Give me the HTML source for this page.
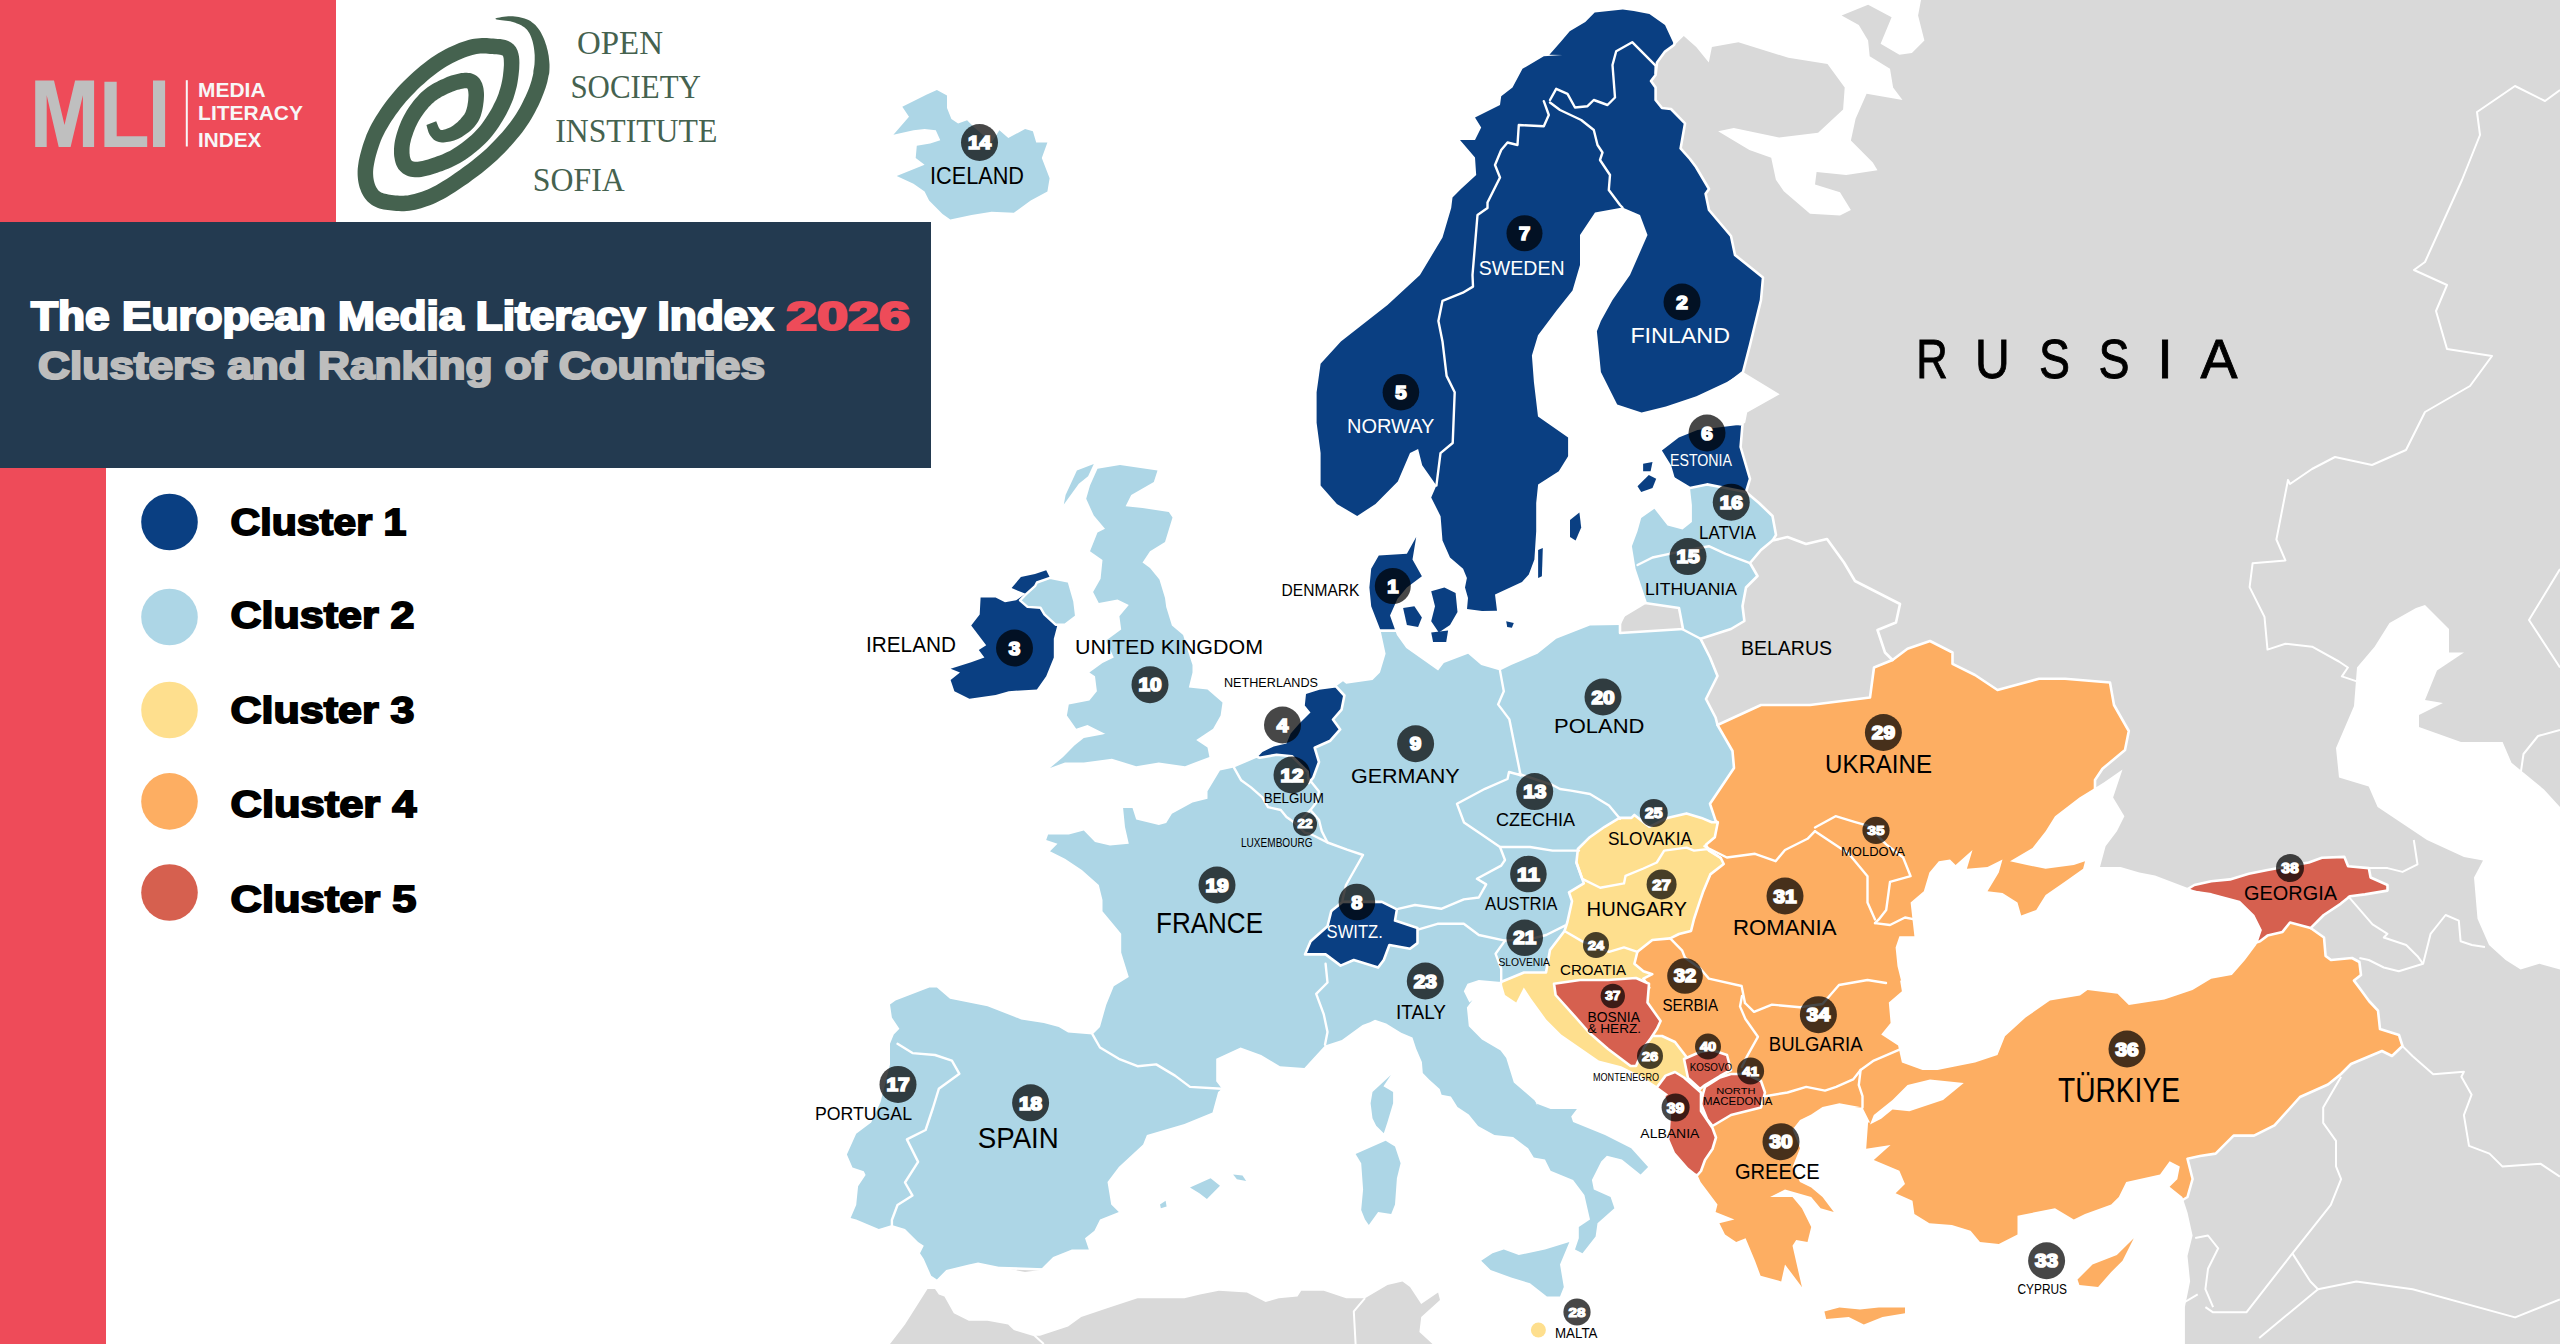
<!DOCTYPE html>
<html><head><meta charset="utf-8"><title>European Media Literacy Index 2026</title>
<style>
html,body{margin:0;padding:0;background:#fff;}
body{width:2560px;height:1344px;overflow:hidden;}
svg{display:block;}
.lbl{font-family:"Liberation Sans",sans-serif;}
</style></head><body>
<svg xmlns="http://www.w3.org/2000/svg" width="2560" height="1344" viewBox="0 0 2560 1344">
<rect width="2560" height="1344" fill="#fff"/>

<rect x="0" y="0" width="2560" height="1344" fill="#D9D9D9"/>
<path d="M700,420 1300,540 1380,628 1500,640 1600,560 1640,500 1700,470 1746,492 1759,503 1772.5,516 1776,535 1772.5,540.6 1800,600 1800,800 1700,900 1760,1000 1700,1100 1650,1200 1600,1262 1400,1272 1200,1275 1000,1268 940,1283 830,1240 700,1100Z" fill="#ADD6E6" stroke="#fff" stroke-width="2.6" stroke-linejoin="round"/>
<path d="M1717.5,725 1732.5,751 1734,768 1710,803.8 1715.6,820.6 1717.5,822.5 1690,850 1650,890 1620,940 1610,990 1640,1040 1660,1080 1680,1120 1690,1170 1680,1300 1900,1340 2000,1290 2100,1240 2150,1220 2187.5,1197 2192.6,1179 2187.5,1158.7 2200,1156 2215.6,1153.6 2233.6,1135.6 2254,1135.6 2274.5,1125.4 2300,1097 2328,1084.5 2341,1074 2351,1064 2382,1051 2392,1056 2402.5,1046 2399,1035 2380,1029 2378,1010.6 2369,1001 2361,990 2354,980.6 2361,975 2359.4,962 2352,958 2331,960 2325.6,956 2324,937.5 2310.6,928 2290,905 2230,900 2150,900 2090,866 2095,830 2095,780 2102.5,768.8 2125,750 2128.8,731 2114,705 2110,682.5 2065,678.8 2039,678.8 1997.5,690 1975,675 1952.5,663.8 1952.5,652.5 1930,641 1907.5,648.8 1892.5,660 1870,650 1760,680Z" fill="#FDAE62" stroke="#fff" stroke-width="2.6" stroke-linejoin="round"/>
<path d="M1576.4,862.5 1577.9,849 1589.8,837.2 1604.7,826.8 1619.5,817.9 1631.4,817.9 1634.4,814.9 1649.3,826.8 1667.2,817.9 1686.5,813.4 1701.4,817.9 1711.8,822.3 1717.8,822.3 1714.8,837.2 1705.9,844.7 1708.9,850.6 1720.8,858 1723.7,864 1710.3,874.4 1702.9,892.3 1699.9,901.2 1694,919 1691,931 1679,934 1670.2,938.4 1652.3,940 1637.4,951.8 1634.4,963.7 1643.4,971.2 1652.3,974.2 1643.4,978.6 1649.3,987.6 1640,1000 1650,1030 1645,1036 1662,1036 1675,1042 1688,1059 1690,1080 1670,1100 1640,1100 1560,1060 1500,1000 1501,982 1524,972.5 1546,972.5 1550,950 1564.5,931 1567.4,922 1572,901.2 1569,892.3 1583.8,883.4Z" fill="#FEDF8E" stroke="#fff" stroke-width="2.6" stroke-linejoin="round"/>
<path d="M1554,983.8 1580,980 1608,980 1636,978 1649,983.8 1647.5,1002.5 1660.6,1021 1657,1028.8 1651,1038 1644,1047.5 1636,1066 1630.6,1066 1608,1049 1589,1032.5 1572.5,1013.8 1555.6,995Z" fill="#D6604F" stroke="#fff" stroke-width="2.6" stroke-linejoin="round"/>
<path d="M1684,1059 1700,1052 1712,1050 1727,1055 1731,1070 1720,1076 1705,1085 1700,1089 1688,1078Z" fill="#D6604F" stroke="#fff" stroke-width="2.6" stroke-linejoin="round"/>
<path d="M1705,1087 1720,1077.5 1731,1074 1746,1074 1761,1081 1765,1092.5 1761,1107.5 1731,1115 1712.5,1126 1707,1119 1701,1104 1703,1094Z" fill="#D6604F" stroke="#fff" stroke-width="2.6" stroke-linejoin="round"/>
<path d="M1665.6,1075.6 1675,1072 1684,1077.5 1701,1092.5 1701,1111 1712.5,1128 1716,1137.5 1712.5,1149 1705,1160 1701,1171 1697.5,1175 1660,1175 1640,1110Z" fill="#D6604F" stroke="#fff" stroke-width="2.6" stroke-linejoin="round"/>
<path d="M2194.4,885 2211.2,881.2 2230,879.4 2248.8,873.8 2267.5,870 2308.8,862.5 2321.9,857.8 2344.4,856.9 2348.1,866.2 2368.8,868.1 2370.6,877.5 2387.5,885 2387.5,890.6 2365,894.4 2350,896.2 2340.6,903.8 2323.8,915 2310.6,928.1 2290,922.5 2282.5,931.9 2267.5,935.6 2260,941.2 2248.8,945 2239.4,901.9 2211.2,894.4 2185,890.6Z" fill="#D6604F" stroke="#fff" stroke-width="2.6" stroke-linejoin="round"/>
<path d="M1500,-10 1700,-10 1680,30 1674,45 1665,51.6 1657,62.5 1655.6,75 1651,81 1655.6,87.5 1655.6,100 1662,108 1671,109 1680.6,118.8 1685,123.4 1680.6,148.4 1690,159 1696,167 1709,189 1705.6,193.8 1709,210 1731,236 1735,255 1763,277.5 1761,300 1750,345 1743,372 1700,405 1600,440 1595,600 1560,630 1470,626 1300,520 1300,300Z" fill="#0A3F82" stroke="#fff" stroke-width="2.6" stroke-linejoin="round"/>
<path d="M1742.5,424.4 1740.6,447 1750,478.8 1746,492 1725.6,488 1707,484.4 1690,488 1660,470 1620,440 1660,415Z" fill="#0A3F82" stroke="#fff" stroke-width="2.6" stroke-linejoin="round"/>
<path d="M1340,540 1420,520 1435,600 1400,630.6 1393.8,630.6 1380.6,630.6 1340,630Z" fill="#0A3F82" stroke="#fff" stroke-width="2.6" stroke-linejoin="round"/>
<path d="M1306.3,692.6 1319,688.4 1336,686.3 1344.4,695.5 1341.6,709.6 1333,719.5 1340.2,729.4 1330.3,740.7 1314.7,747.8 1319,762 1313.3,777.5 1309,783 1307.7,771.8 1292,756.3 1276.6,754.8 1259.6,757.7 1245,752 1273.7,735 1285,720 1290,700 1300,680Z" fill="#0A3F82" stroke="#fff" stroke-width="2.6" stroke-linejoin="round"/>
<path d="M1333.1,909.4 1342.5,901.9 1381.9,901.9 1396.9,909.4 1395,920.6 1417.5,928.1 1417.5,943.1 1410,948.8 1389.4,945 1383.8,960 1378.1,967.5 1353.8,960 1340.6,965.6 1325.6,954.4 1305,954.4 1310.6,941.2 1327.5,926.2 1331.2,911.2Z" fill="#0A3F82" stroke="#fff" stroke-width="2.6" stroke-linejoin="round"/>
<path d="M1772.5,540.6 1787.5,537 1806,544 1827,539 1844,562.5 1855,581 1900,604 1896,622.5 1877.5,630 1885,652.5 1892.5,660 1874,667.5 1870,697.5 1810,705 1761,705 1717.5,725 1715.6,717.5 1706,699 1717.5,676 1710,657.5 1700.6,638.8 1731,629 1744.4,621 1742.5,606 1746,587.5 1757.5,576 1750,563 1761,550Z" fill="#D9D9D9" stroke="#fff" stroke-width="2.6" stroke-linejoin="round"/>
<path d="M1620,618 1645,603 1679,608 1683,629 1620,633Z" fill="#D9D9D9" stroke="#fff" stroke-width="2.6" stroke-linejoin="round"/>
<path d="M1234,767.6 1241.2,780.3 1251,787.4 1262.4,797.3 1268,807.2 1280.8,810 1286.5,817 1296.4,824.1 1304.8,832.6 1310.5,834 1319,838.3 1327.5,842.5 1347,849.6 1363,855 1346,885 1342.5,900" fill="none" stroke="#fff" stroke-width="2.4" stroke-linejoin="round" stroke-linecap="round"/>
<path d="M1307.7,777.5 1319,791.6 1316,803 1310.5,810 1319,820 1321.8,831.2 1327.5,842.5" fill="none" stroke="#fff" stroke-width="2.4" stroke-linejoin="round" stroke-linecap="round"/>
<path d="M1296.4,824.1 1310.5,810" fill="none" stroke="#fff" stroke-width="2.4" stroke-linejoin="round" stroke-linecap="round"/>
<path d="M1325.6,963.8 1327.5,982.5 1316.2,993.8 1323.8,1014.4 1327.5,1032 1325,1044.7" fill="none" stroke="#fff" stroke-width="2.4" stroke-linejoin="round" stroke-linecap="round"/>
<path d="M1092.5,1034.4 1100,1047.5 1118.8,1058.8 1137.5,1066.2 1156.2,1064.4 1175,1075.6 1190,1086.9 1221.9,1088.8" fill="none" stroke="#fff" stroke-width="2.4" stroke-linejoin="round" stroke-linecap="round"/>
<path d="M897.5,1043.8 912.5,1053.1 935,1055 951.9,1060.6 959.4,1073.8 938.8,1088.8 933.1,1107.5 925.6,1130 906.9,1139.4 918.1,1161.9 905,1182.5 912.5,1195.6 897.5,1205 891.9,1220 891.9,1232 891.9,1225.1" fill="none" stroke="#fff" stroke-width="2.4" stroke-linejoin="round" stroke-linecap="round"/>
<path d="M1500,670.6 1503.8,691.2 1498.1,704.4 1509.4,719.4 1515,747.5 1518.8,766.2 1520.6,775.6" fill="none" stroke="#fff" stroke-width="2.4" stroke-linejoin="round" stroke-linecap="round"/>
<path d="M1520,775 1509,772 1507.5,779 1485,788.8 1464,800 1457,803.8 1464,822.5 1481,834 1500,847 1530,847 1552.5,850.6 1571,850.6 1579,850.6" fill="none" stroke="#fff" stroke-width="2.4" stroke-linejoin="round" stroke-linecap="round"/>
<path d="M1519,774 1530,777.5 1552.5,785 1560,789 1571,790.6 1590,794 1609,805.6 1620,818.8" fill="none" stroke="#fff" stroke-width="2.4" stroke-linejoin="round" stroke-linecap="round"/>
<path d="M1398.1,908.8 1415,905 1441.2,908.8 1463.8,899.4 1478.8,897.5 1486.2,884.4 1476.9,878.8 1501.2,865.6 1505,860 1500,847" fill="none" stroke="#fff" stroke-width="2.4" stroke-linejoin="round" stroke-linecap="round"/>
<path d="M1418.8,929.4 1437.5,923.8 1463.8,923.8 1478.8,935 1505,940.6 1531.2,938.8 1546.2,935 1565,925.6" fill="none" stroke="#fff" stroke-width="2.4" stroke-linejoin="round" stroke-linecap="round"/>
<path d="M1505,940.6 1495.6,953.8 1501.2,968.8 1501.2,981.9" fill="none" stroke="#fff" stroke-width="2.4" stroke-linejoin="round" stroke-linecap="round"/>
<path d="M1637.5,565 1652.5,557.5 1669.4,553.8 1708.8,546.2 1725.6,553.8 1750,563.1" fill="none" stroke="#fff" stroke-width="2.4" stroke-linejoin="round" stroke-linecap="round"/>
<path d="M1682,629 1700.6,638.8" fill="none" stroke="#fff" stroke-width="2.4" stroke-linejoin="round" stroke-linecap="round"/>
<path d="M1704.4,846.2 1726.9,857.5 1755,853.8 1775.6,861.2 1785,850 1807.5,838.8 1815,831.2" fill="none" stroke="#fff" stroke-width="2.4" stroke-linejoin="round" stroke-linecap="round"/>
<path d="M1815,827.5 1835.6,816.2 1854.4,821.9 1867.5,825.6 1886.2,844.4 1903.1,857.5 1910.6,876.2 1890,881.9 1886.2,910 1878.8,919.4 1875,923.1" fill="none" stroke="#fff" stroke-width="2.4" stroke-linejoin="round" stroke-linecap="round"/>
<path d="M1815,831.2 1848.8,853.8 1867.5,876.2 1867.5,902.5 1875,919.4" fill="none" stroke="#fff" stroke-width="2.4" stroke-linejoin="round" stroke-linecap="round"/>
<path d="M1875,923.1 1890,925 1905,917.5 1914.4,919.4" fill="none" stroke="#fff" stroke-width="2.4" stroke-linejoin="round" stroke-linecap="round"/>
<path d="M1670.2,938.4 1682,950.3 1685,957.8 1700,968.2 1708.9,978.6 1741.6,986 1745,1003" fill="none" stroke="#fff" stroke-width="2.4" stroke-linejoin="round" stroke-linecap="round"/>
<path d="M1745,1003 1754,1011.8 1772,1004.6 1800,1007.3 1822.5,1004 1839,985 1867.5,980 1886,983" fill="none" stroke="#fff" stroke-width="2.4" stroke-linejoin="round" stroke-linecap="round"/>
<path d="M1742,996 1740,1006.4 1745.4,1019 1757.9,1036.8 1747,1056.4 1741.8,1067" fill="none" stroke="#fff" stroke-width="2.4" stroke-linejoin="round" stroke-linecap="round"/>
<path d="M1765,1096.2 1787.5,1092.5 1806.2,1086.9 1825,1090.6 1836.2,1086.9 1853.1,1079.4 1860.6,1070 1873.8,1060.6 1900,1049.4" fill="none" stroke="#fff" stroke-width="2.4" stroke-linejoin="round" stroke-linecap="round"/>
<path d="M1860.6,1070 1858.8,1085 1862.5,1096.2 1862.5,1107.5" fill="none" stroke="#fff" stroke-width="2.4" stroke-linejoin="round" stroke-linecap="round"/>
<path d="M1576.4,862.5 1582.3,878.9 1600.2,887.8 1624,883.4 1625.5,875.9 1643.4,868.5 1656.8,862.5 1664.2,850.6 1686.5,847.6 1694,850.6 1707.4,849.1 1720.8,858" fill="none" stroke="#fff" stroke-width="2.4" stroke-linejoin="round" stroke-linecap="round"/>
<path d="M1564.5,931 1582.3,941.4 1609,951.8 1624,947.4 1637.4,951.8" fill="none" stroke="#fff" stroke-width="2.4" stroke-linejoin="round" stroke-linecap="round"/>
<path d="M1543.8,101.2 1548.8,115 1543.8,126.2 1518.8,125 1517.5,145 1507.5,142.5 1501.2,150 1495,165 1500,177.5 1487.5,202.5 1487.5,208 1477.5,215 1472.5,275 1473,286.6 1462.8,292.7 1442.5,300.8 1438.4,321.1 1442.5,341.4 1446.6,375.9 1454.7,392.2 1452.7,443 1440.5,453.1 1436.4,485.6" fill="none" stroke="#fff" stroke-width="2.4" stroke-linejoin="round" stroke-linecap="round"/>
<path d="M1550,102.5 1560,110 1581.2,120 1593.8,130 1597.5,145 1602.5,152.5 1600,160 1610,175 1608.8,190 1620,205 1622.5,207.5" fill="none" stroke="#fff" stroke-width="2.4" stroke-linejoin="round" stroke-linecap="round"/>
<path d="M1550,100 1556.2,88.8 1567.5,93.8 1575,107.5 1587.5,106.2 1593.8,100 1607.5,105 1615,97.5 1612.5,65 1616.2,51.2 1632.2,42.2 1655.6,65.6 1655.6,73.4" fill="none" stroke="#fff" stroke-width="2.4" stroke-linejoin="round" stroke-linecap="round"/>
<path d="M2560,90 2545,101 2515,86 2477,112 2480,135 2462,180 2425,262 2414,270 2447,285 2436,311 2447,349 2492,356 2470,386 2425,412 2406,450 2372,465 2335,457 2312,469 2290,484 2288,480 2276.4,539.5 2285.4,560.4 2252.6,563.3 2249.6,587.1 2264.5,616.9 2267.5,649.6 2285.4,643.7 2312.1,646.7 2338.9,661.5 2347.9,667.5 2341.9,676.4 2359.8,682.4" fill="none" stroke="#fff" stroke-width="2" stroke-linejoin="round"/>
<path d="M2560,569 2529,620 2560,667.5" fill="none" stroke="#fff" stroke-width="2" stroke-linejoin="round"/>
<path d="M2560,730 2538,736 2523.5,754 2520,778" fill="none" stroke="#fff" stroke-width="2" stroke-linejoin="round"/>
<path d="M2413.8,840 2417.5,864.4 2402.5,871.9 2387.5,868.1 2368.8,868.1" fill="none" stroke="#fff" stroke-width="2" stroke-linejoin="round"/>
<path d="M2348.1,896.2 2372.5,924.4 2387.5,933.8 2383.8,937.5 2406.2,945 2417.5,956.2 2423.1,963.8 2398.8,971.2 2383.8,967.5 2368.8,960 2359.4,958.1" fill="none" stroke="#fff" stroke-width="2" stroke-linejoin="round"/>
<path d="M2423.1,963.8 2430.6,933.8 2445.6,915 2458.8,920.6 2460.6,941.2 2471.9,945 2485,946.9" fill="none" stroke="#fff" stroke-width="2" stroke-linejoin="round"/>
<path d="M2402.5,1046.1 2412.7,1056.3 2433.2,1074.2 2463.9,1071.7 2461.4,1076.8 2471.6,1094.7 2463.9,1115.2 2469,1145.9 2489.5,1153.6 2502.3,1166.4 2540.7,1163.8 2559.9,1176.6" fill="none" stroke="#fff" stroke-width="2" stroke-linejoin="round"/>
<path d="M2341.1,1076.8 2323.2,1107.5 2323.2,1122.9 2336,1140.8 2336,1166.4 2341.1,1179.2 2330.8,1204.8 2292.4,1253.4 2246.4,1312.3 2213.1,1312.3 2205.4,1307.1" fill="none" stroke="#fff" stroke-width="2" stroke-linejoin="round"/>
<path d="M2292.4,1253.4 2310.4,1281.5 2318,1289.2 2356.4,1281.5 2412.7,1289.2 2515.1,1317.4 2559.9,1299.5" fill="none" stroke="#fff" stroke-width="2" stroke-linejoin="round"/>
<path d="M2318,1289.2 2259.2,1337.9" fill="none" stroke="#fff" stroke-width="2" stroke-linejoin="round"/>
<path d="M2195.2,1238 2208,1235.5 2218.2,1248.3 2208,1268.8 2205.4,1289.2 2213.1,1307.1" fill="none" stroke="#fff" stroke-width="2" stroke-linejoin="round"/>
<path d="M2184.9,1302 2197.7,1294.3" fill="none" stroke="#fff" stroke-width="2" stroke-linejoin="round"/>
<path d="M1365,1298.2 1353.8,1311.4 1355.6,1344" fill="none" stroke="#fff" stroke-width="2" stroke-linejoin="round"/>
<path d="M1030.6,1332 1043.8,1344" fill="none" stroke="#fff" stroke-width="2" stroke-linejoin="round"/>
<path d="M0,0 1921,0 1918.1,15.6 1924.4,40.6 1911.9,53.1 1899.4,54.7 1880.6,43.8 1891.6,17.2 1868.1,4.7 1841.6,15.6 1858.8,25 1868.1,40.6 1869.7,56.2 1890,68.8 1893.1,87.5 1902.5,100 1866.6,93.8 1855.6,118.8 1850.9,140.6 1872.8,162.5 1877.5,170.3 1846.2,175 1816.6,171.9 1815,184.4 1840,192.2 1850.9,210 1840,215.6 1810,213.8 1783.8,191.2 1775.9,179.7 1771.2,157.8 1749.4,150 1718.1,131.2 1733.8,128.1 1779.1,137.5 1818.1,132.8 1843.1,109.4 1844.7,87.5 1827.5,64.1 1788.4,57.8 1738.4,42.2 1711.9,46.9 1708.8,62.5 1696.2,46.9 1683.8,35.9 1674.4,45.3 1665,25 1649.4,14.1 1633.8,10.9 1622.8,9.4 1594.7,12.5 1585.3,21.9 1569.7,31.2 1561.9,40.6 1549.4,54.7 1562.5,55 1543.8,56.2 1522.5,68.8 1512.5,87.5 1501.2,96.2 1500,105 1475,117.5 1481.2,127.5 1475,140 1460,140 1475,157.5 1476.2,175 1461.2,188.8 1452.5,197.5 1451.2,208 1442.5,237.5 1420,275 1387.5,305 1340.9,341.4 1320.6,363.8 1316.6,392.2 1316.6,422.7 1320.6,453.1 1320.6,485.6 1336.9,503.9 1357.2,516.1 1375.5,503.9 1397.8,481.6 1410,453.1 1418.1,449.1 1422.2,465.3 1436.4,485.6 1431.2,497.5 1440.6,516.2 1442.5,540.6 1450,557.5 1463.1,568.8 1466.9,578.1 1465,587.5 1468,598 1467,609 1482,611 1497,610.7 1495,594.6 1522,582 1528.8,574.4 1534.4,559.4 1536.2,531.2 1536.2,503.1 1538.1,484.4 1558.8,471.2 1568.1,456.2 1568.1,437.5 1538,416.6 1533.9,382 1531.9,355.6 1538,335.3 1556.2,310.9 1572.5,290.6 1580,265 1580,235 1595,212.5 1622.5,207.5 1640,215 1647.5,235 1630,275 1612.5,300 1600.9,321.1 1596.9,331.2 1600.9,371.9 1617.2,404.4 1641.6,412.5 1665.9,406.4 1696.4,396.2 1726.9,382 1743.1,371.9 1779.7,394.2 1747.2,412.5 1745.2,422.7 1742.5,424.4 1697.5,430 1678.8,437.5 1661.9,450.6 1671.2,465.6 1675,478.8 1690,488.1 1691.9,505 1691.9,521.9 1682.5,529.4 1667.5,525.6 1654.4,508.8 1641.2,518.1 1637.5,531.2 1631.9,546.2 1635.6,568.8 1643.1,591.2 1646.9,602.5 1626.2,613.8 1620.6,625 1590,625.6 1556.2,638.8 1537.5,653.8 1511.2,665 1500,670.6 1481.2,665 1468.1,653.8 1443.8,663.1 1438.1,670.6 1425,661.2 1406.2,648.1 1396.9,635 1390,615.6 1397.5,598.8 1406.9,587.5 1421.9,576.2 1412.5,559.4 1416.2,536.9 1406.9,553.8 1378.8,555.6 1371.2,568.8 1369.4,587.5 1371.2,606.2 1380.6,630.6 1385.6,653.8 1380,672.5 1372.5,680 1346.2,683.8 1343,681.3 1336,686.3 1319,688.4 1306.3,691.2 1304.8,705.4 1310.5,712.4 1299.2,723.7 1290.7,733.6 1286.5,743.5 1273.7,746.4 1262.4,752 1256.8,757.7 1234,767.6 1220,770.4 1207.5,791.2 1207.5,798.8 1192.5,802.5 1171.9,813.8 1166.2,823.1 1158.8,825 1136.2,819.4 1132.5,808.1 1123.1,808.1 1125,826.9 1128.8,843.8 1110,845.6 1095,841.9 1083.8,830.6 1068.8,834.4 1048.1,834.4 1046.2,840 1057.5,843.8 1050,851.2 1065,858.8 1081.9,870 1098.8,885 1102.5,900 1102.5,911.2 1111.9,922.5 1121.2,933.8 1121.2,952.5 1128.8,976.9 1113.8,986.2 1106.2,1005 1100,1026.9 1092.5,1034.4 1068.1,1032.5 1058.8,1026.9 1043.8,1023.1 1021.2,1019.4 987.5,1006.2 968.8,1002.5 950,998.8 936.9,987.5 929.4,987.5 895.6,1000.6 890,1004.4 891.9,1017.5 899.4,1028.8 893.8,1034.4 890,1043.8 890,1064.4 880.6,1101.9 871.2,1122.5 856.2,1133.8 846.9,1154.4 852.5,1167.5 863.8,1171.2 865.6,1175 858.1,1186.2 856.2,1205 850.6,1218.1 856.2,1219.5 878.8,1228.9 891.9,1225.1 905,1228.9 918.1,1242 923.8,1245.8 920,1253.2 923.8,1258.9 931.2,1275.8 936.9,1279.5 946.2,1270.1 968.8,1264.5 978.1,1262.6 1006.2,1268.2 1025,1272 1040,1270.1 1053.1,1257 1071.9,1249.5 1088.8,1249.5 1085,1238.2 1094.4,1230.8 1100,1219.5 1118.8,1212 1111.2,1204.5 1107.5,1182 1118.8,1167 1143.1,1144.5 1146.9,1135.1 1184.4,1123.9 1212.5,1112.6 1218.1,1092 1221.9,1088.8 1216.2,1081.2 1216.2,1058.8 1240.6,1047.5 1261.2,1055 1280,1066.2 1304.4,1068.1 1325,1045.6 1341.9,1040 1362.5,1025 1377.5,1019.4 1365.6,1024.4 1375,1019.7 1386.2,1023.4 1401.2,1032.8 1412.5,1037.5 1416.2,1048.8 1421.9,1061.9 1422.8,1073.1 1429.4,1079.7 1439.7,1089.1 1441.6,1094.7 1450.9,1096.6 1457.5,1106.9 1468.8,1114.4 1478.1,1126 1494.4,1135.1 1513.1,1137 1528.1,1148.2 1533.8,1157.6 1545,1159.5 1550.6,1170.8 1573.1,1180.1 1584.4,1195.1 1590,1219.5 1578.8,1227 1578.8,1238.2 1575,1249.5 1582.5,1253.2 1595.6,1236.4 1597.5,1223.2 1614.4,1208.2 1610.6,1197 1593.8,1189.5 1591.9,1180.1 1601.2,1161.4 1606.9,1155.8 1621.9,1159.5 1640.6,1174.5 1648.1,1167 1631.2,1148.2 1605,1135.1 1573.1,1122 1571.2,1116.4 1576.9,1108.9 1550.6,1108.9 1535.6,1103.2 1538.1,1105.9 1534.4,1100.3 1513.8,1082.5 1506.2,1058.1 1500.6,1050.6 1481.9,1039.4 1468.8,1026.2 1466.9,1007.5 1472.5,1000 1469.4,1002.5 1463.8,991.2 1467.5,983.8 1478.8,980 1501.2,981.9 1505,995 1516.2,1002.5 1523.8,987.5 1531.2,998.8 1546.2,1019.4 1561.2,1034.4 1580,1047.5 1598.8,1060.6 1621.2,1066.2 1640,1075.6 1655,1085 1668.1,1094.4 1665.6,1096.2 1671.2,1115 1669.4,1139.4 1675,1152.5 1688.1,1167.5 1697.5,1175 1700.6,1182 1717.5,1204.5 1715.6,1212 1734.4,1219.5 1719.4,1223.2 1725,1234.5 1736.2,1242 1745.6,1238.2 1755,1260.8 1760.6,1275.8 1781.2,1281.4 1785,1264.5 1801.9,1287 1792.5,1245.8 1796.2,1240.1 1807.5,1242 1811.2,1227 1801.9,1208.2 1792.5,1197 1770,1197 1785,1189.5 1811.2,1197 1820.6,1208.2 1833.8,1212 1822.5,1197 1811.2,1187.6 1800,1182 1792.5,1167 1800,1148.2 1792.5,1129.5 1800,1120.1 1811.2,1114.5 1822.5,1107 1839.4,1103.2 1860,1107 1815.6,1111.2 1843.8,1107.5 1862.5,1107.5 1870,1122.5 1868.1,1122.5 1866.2,1148.8 1890.6,1145 1873.8,1160 1899.4,1170.8 1905,1183.9 1895.6,1193.2 1912.5,1200.8 1914.4,1213.9 1929.4,1223.2 1951.9,1225.1 1970.6,1230.8 1980,1242 1998.8,1243.9 2017.5,1234.5 2017.5,1215.8 2055,1208.2 2073.8,1219.5 2085,1213.9 2111.2,1204.5 2118.8,1197 2126.2,1182 2160,1174.5 2169.6,1161.2 2179.8,1166.4 2177.3,1179.2 2169.6,1186.8 2182.4,1197.1 2187.5,1212.4 2192.6,1235.5 2187.5,1256 2190.1,1281.5 2184.9,1307.1 2184.9,1344 1432.5,1344 1419.4,1332 1421.2,1317 1440,1300.1 1438.1,1292.6 1421.2,1303.9 1410,1287 1402.5,1281.4 1387.5,1285.1 1365,1298.2 1346.2,1298.2 1323.8,1290.8 1301.2,1290.8 1297.5,1296.4 1278.8,1298.2 1265.6,1302 1246.9,1292.6 1218.8,1290.8 1200,1294.5 1184.4,1298.2 1137.5,1298.2 1109.4,1307.6 1081.2,1317 1068.1,1326.4 1040,1335.8 1032.5,1335.8 1013.8,1330.1 1008.1,1324.5 987.5,1320.8 968.8,1320.8 953.8,1313.2 944.4,1296.4 938.8,1294.5 935,1288.9 927.5,1288.9 905,1324.5 890,1344 0,1344Z" fill="#fff"/>
<path d="M1914.4,936.2 1912.5,919.4 1910.6,902.5 1923.8,891.2 1929.4,872.5 1938.8,861.2 1950,859.4 1955.6,865 1972.5,850 1966.9,868.8 1987.5,866.9 2002.5,859.4 1998.8,872.5 1987.5,891.2 2002.5,893.1 2017.5,902.5 2021.2,915.6 2036.2,910 2045.6,895 2064.4,881.9 2083.1,868.8 2085,861.2 2073.8,865 2045.6,868.8 2026.9,865 2010,861.2 2032.5,848.1 2045.6,831.2 2055,816.2 2079.4,797.5 2103.8,782.5 2122.5,769.4 2113.1,797.5 2124.4,816.2 2116.9,831.2 2105.6,846.2 2100,866.9 2120.6,866.9 2139.4,872.5 2155,875.6 2194.4,890.6 2211.2,894.4 2230,900 2241.2,901.9 2254.4,915 2261.9,930 2258.1,941.2 2256.2,945 2245,960 2231.9,975 2211.2,978.8 2192.5,990 2164.4,999.4 2128.8,1005 2117.5,993.8 2087.5,990 2080,995.6 2050,1000.6 2025.6,1017.5 2005,1036.2 1997.5,1055 1975,1062.5 1956.2,1066.2 1937.5,1070 1922.5,1070 1901.9,1062.5 1898.1,1045.6 1881.2,1034.4 1890.6,1023.1 1888.8,1002.5 1901.9,991.2 1900,980 1901.2,981.2 1897.5,966.2 1895.6,947.5 1899.4,936.2Z" fill="#fff"/>
<path d="M1907.5,1085 1930,1079.4 1963.8,1083.1 1943.1,1100 1909.4,1111.2 1892.5,1109.4 1881.2,1118.8 1870,1124.4 1873.8,1115 1892.5,1100Z" fill="#fff"/>
<path d="M2425,605 2449,629 2449,652.6 2464,652.6 2437,670.5 2425,700 2443,703 2419,715 2419,727 2461,742 2502.6,742 2511.5,762.7 2544,789.5 2560,807 2560,969.4 2539.4,963.8 2520.6,969.4 2505.6,960 2489,945 2477.5,918.8 2474,877.5 2483,860.6 2464,857 2427,840 2377.6,807 2368.7,786.5 2339,777.6 2336,748 2354,706 2357,667.5 2374.6,646.7 2389.5,623 2416,608Z" fill="#fff"/>
<path d="M902.3,106.8 926.9,94.5 936.9,90 947,95.6 947,107.9 951.4,119.1 958.1,123.5 967.1,120.2 973.8,126.9 991.6,142.5 999.4,130.2 1008.3,138 1025.1,129.1 1032.9,131.3 1036.2,142.5 1047.4,142.5 1041.8,158.1 1049.6,178.2 1047.4,191.6 1030.7,200.5 1013.9,212.8 991.6,211.7 971.5,215 950.3,219.5 942.5,213.9 929.1,200.5 924.6,191.6 913.5,183.8 896.7,176 924.6,164.8 915.7,158.1 916.8,145.8 930.2,143.6 940.3,140.3 935.8,130.2 924.6,129.1 913.5,130.2 893.4,134.7 909,116.8Z" fill="#ADD6E6"/>
<path d="M1046.2,570.3 1050,577.8 1065,580.6 1070.6,586.2 1074.4,603.1 1075.3,616.2 1057.5,624.7 1053.8,638.8 1053.8,657.5 1046.2,676.2 1036.9,689.4 1008.8,691.2 995.6,695 969.4,698.8 954.4,691.2 950.6,680 960,672.5 950.6,668.8 971.2,662.2 984.4,657.5 978.8,650 986.2,645.3 971.2,625.6 979.7,614.4 980.6,597.5 995.6,597.5 1005,602.2 1016.2,600.3 1025.6,593.8 1011.6,588.1 1020.9,576.9 1035,574.1Z" fill="#0A3F82"/>
<path d="M1036.9,582.5 1050,577.8 1068.8,581.6 1074.4,601.2 1076.2,616.2 1065,624.7 1055.6,624.7 1044.4,614.4 1040.6,607.8 1027.5,606.9 1020,600.3 1025.6,594.7 1035,586.2Z" fill="#ADD6E6" stroke="#fff" stroke-width="2.4" stroke-linejoin="round"/>
<path d="M1097.5,468.8 1120,465 1157.5,470.6 1153.8,481.9 1131.2,495 1125.6,506.2 1142.5,508.1 1168.8,511.9 1172.5,517.5 1165,541.9 1150,551.2 1142.5,562.5 1150,568.1 1159.4,579.4 1165,598.1 1166.2,606.9 1171.9,625.6 1183.1,635 1188.8,653.8 1192.5,665 1192.5,672.5 1188.8,687.5 1207.5,689.4 1222.5,702.5 1220.6,715.6 1213.1,728.8 1196.2,740 1207.5,747.5 1209.4,756.9 1185,766.2 1158.8,762.5 1136.2,766.2 1111.9,758.8 1083.8,762.5 1065,762.5 1050,768.1 1063.1,756.9 1074.4,745.6 1083.8,738.1 1102.5,734.4 1123.1,728.8 1110,736.2 1087.5,725 1076.2,728.8 1066.9,715.6 1068.8,704.4 1089.4,700.6 1096.9,691.2 1095,676.2 1089.4,672.5 1102.5,663.1 1113.8,657.5 1106.2,640.6 1121.2,629.4 1119.4,616.2 1128.8,605 1117.5,599.4 1098.8,603.1 1093.1,591.9 1100.6,578.8 1102.5,560 1090,551.2 1097.5,532.5 1105,528.8 1093.8,515.6 1086.2,498.8 1090,485.6Z" fill="#ADD6E6"/>
<path d="M1076.9,470.6 1093.8,464.1 1088.1,476.2 1078.8,483.8 1063.8,504.4 1065.6,495Z" fill="#ADD6E6"/>
<path d="M1403.1,608.1 1414.4,606.2 1421.9,617.5 1418.1,626.9 1406.9,625Z" fill="#0A3F82"/>
<path d="M1431.2,591.2 1444.4,587.5 1455.6,593.1 1457.5,611.9 1450,625 1438.8,632.5 1431.2,621.2 1435,606.2Z" fill="#0A3F82"/>
<path d="M1431.2,632.5 1448.1,630.6 1446.2,641.9 1433.1,641.9Z" fill="#0A3F82"/>
<path d="M1506.2,621.2 1513.8,623.1 1511.9,627.8 1507.2,626.9Z" fill="#0A3F82"/>
<path d="M1570,520 1579.4,512.5 1581.2,527.5 1575.6,540.6 1570,536.9Z" fill="#0A3F82"/>
<path d="M1538.1,550 1542.8,548.1 1541.9,576.2 1538.1,578.1Z" fill="#0A3F82"/>
<path d="M1637.5,486.2 1648.8,475 1656.2,478.8 1652.5,488.1 1641.2,491.9Z" fill="#0A3F82"/>
<path d="M1643.1,463.8 1652.5,461.9 1650.6,471.2 1643.1,471.2Z" fill="#0A3F82"/>
<path d="M1390.9,1075 1383.4,1086.2 1393.1,1092 1393.1,1103.2 1387.5,1122 1383.8,1133.2 1376.2,1125.8 1372.5,1118.2 1370.6,1103.2 1372.5,1092Z" fill="#ADD6E6"/>
<path d="M1355.6,1153.9 1385.6,1140.8 1395,1146.4 1400.6,1163.2 1396.9,1178.2 1395,1204.5 1391.2,1213.9 1378.1,1212 1368.8,1225.1 1365,1219.5 1361.2,1210.1 1363.1,1189.5 1361.2,1163.2Z" fill="#ADD6E6"/>
<path d="M1481.2,1260.8 1492.5,1253.2 1503.8,1249.5 1518.8,1255.1 1545,1249.5 1569.4,1242 1560,1264.5 1563.8,1287 1560,1296.4 1546.9,1296.4 1530,1283.2 1511.2,1277.6 1490.6,1270.1Z" fill="#ADD6E6"/>
<path d="M1190,1187.6 1210.6,1178.2 1220,1185.8 1206.9,1198.9 1199.4,1193.2Z" fill="#ADD6E6"/>
<path d="M1233.1,1174.5 1242.5,1175.4 1246.2,1181.1 1236.9,1179.2Z" fill="#ADD6E6"/>
<path d="M1160,1204.5 1165.6,1200.8 1166.6,1206.4 1160.9,1208.2Z" fill="#ADD6E6"/>
<path d="M1824.4,1311.4 1839.4,1307.6 1860,1309.5 1878.8,1307.6 1905,1307.6 1905,1313.2 1882.5,1317 1863.8,1324.5 1848.8,1317 1826.2,1318.9Z" fill="#FDAE62"/>
<path d="M2077.5,1279.5 2092.5,1264.5 2116.9,1255.1 2133.8,1238.2 2122.5,1260.8 2111.2,1272 2098.1,1287 2079.4,1285.1Z" fill="#FDAE62"/>
<circle cx="1538.4" cy="1330" r="7.5" fill="#FEDF8E"/>
<circle cx="1392.8" cy="586" r="18" fill="#000" fill-opacity="0.72"/>
<text x="1392.8" y="592.5" font-family="Liberation Sans" font-weight="700" font-size="18" fill="#fff" stroke="#fff" stroke-width="1.6" text-anchor="middle" textLength="11.2" lengthAdjust="spacingAndGlyphs">1</text>
<circle cx="1682" cy="302" r="18.5" fill="#000" fill-opacity="0.72"/>
<text x="1682" y="308.7" font-family="Liberation Sans" font-weight="700" font-size="18.5" fill="#fff" stroke="#fff" stroke-width="1.7" text-anchor="middle" textLength="11.5" lengthAdjust="spacingAndGlyphs">2</text>
<circle cx="1014.5" cy="648" r="18.5" fill="#000" fill-opacity="0.72"/>
<text x="1014.5" y="654.7" font-family="Liberation Sans" font-weight="700" font-size="18.5" fill="#fff" stroke="#fff" stroke-width="1.7" text-anchor="middle" textLength="11.5" lengthAdjust="spacingAndGlyphs">3</text>
<circle cx="1282.5" cy="725" r="18.5" fill="#000" fill-opacity="0.72"/>
<text x="1282.5" y="731.7" font-family="Liberation Sans" font-weight="700" font-size="18.5" fill="#fff" stroke="#fff" stroke-width="1.7" text-anchor="middle" textLength="11.5" lengthAdjust="spacingAndGlyphs">4</text>
<circle cx="1400.9" cy="392.2" r="18.3" fill="#000" fill-opacity="0.72"/>
<text x="1400.9" y="398.8" font-family="Liberation Sans" font-weight="700" font-size="18.3" fill="#fff" stroke="#fff" stroke-width="1.6" text-anchor="middle" textLength="11.3" lengthAdjust="spacingAndGlyphs">5</text>
<circle cx="1707" cy="433" r="18.5" fill="#000" fill-opacity="0.72"/>
<text x="1707" y="439.7" font-family="Liberation Sans" font-weight="700" font-size="18.5" fill="#fff" stroke="#fff" stroke-width="1.7" text-anchor="middle" textLength="11.5" lengthAdjust="spacingAndGlyphs">6</text>
<circle cx="1524.5" cy="233.25" r="18" fill="#000" fill-opacity="0.72"/>
<text x="1524.5" y="239.7" font-family="Liberation Sans" font-weight="700" font-size="18" fill="#fff" stroke="#fff" stroke-width="1.6" text-anchor="middle" textLength="11.2" lengthAdjust="spacingAndGlyphs">7</text>
<circle cx="1356.9" cy="902" r="18.3" fill="#000" fill-opacity="0.72"/>
<text x="1356.9" y="908.6" font-family="Liberation Sans" font-weight="700" font-size="18.3" fill="#fff" stroke="#fff" stroke-width="1.6" text-anchor="middle" textLength="11.3" lengthAdjust="spacingAndGlyphs">8</text>
<circle cx="1415.6" cy="743.75" r="18.5" fill="#000" fill-opacity="0.72"/>
<text x="1415.6" y="750.4" font-family="Liberation Sans" font-weight="700" font-size="18.5" fill="#fff" stroke="#fff" stroke-width="1.7" text-anchor="middle" textLength="11.5" lengthAdjust="spacingAndGlyphs">9</text>
<circle cx="1150" cy="684.7" r="18.5" fill="#000" fill-opacity="0.72"/>
<text x="1150" y="691.4" font-family="Liberation Sans" font-weight="700" font-size="18.5" fill="#fff" stroke="#fff" stroke-width="1.7" text-anchor="middle" textLength="23.1" lengthAdjust="spacingAndGlyphs">10</text>
<circle cx="1528.4" cy="874" r="18.3" fill="#000" fill-opacity="0.72"/>
<text x="1528.4" y="880.6" font-family="Liberation Sans" font-weight="700" font-size="18.3" fill="#fff" stroke="#fff" stroke-width="1.6" text-anchor="middle" textLength="22.9" lengthAdjust="spacingAndGlyphs">11</text>
<circle cx="1292" cy="775" r="18.5" fill="#000" fill-opacity="0.72"/>
<text x="1292" y="781.7" font-family="Liberation Sans" font-weight="700" font-size="18.5" fill="#fff" stroke="#fff" stroke-width="1.7" text-anchor="middle" textLength="23.1" lengthAdjust="spacingAndGlyphs">12</text>
<circle cx="1534.7" cy="791.6" r="18.5" fill="#000" fill-opacity="0.72"/>
<text x="1534.7" y="798.3" font-family="Liberation Sans" font-weight="700" font-size="18.5" fill="#fff" stroke="#fff" stroke-width="1.7" text-anchor="middle" textLength="23.1" lengthAdjust="spacingAndGlyphs">13</text>
<circle cx="979.5" cy="142.5" r="18.5" fill="#000" fill-opacity="0.72"/>
<text x="979.5" y="149.2" font-family="Liberation Sans" font-weight="700" font-size="18.5" fill="#fff" stroke="#fff" stroke-width="1.7" text-anchor="middle" textLength="23.1" lengthAdjust="spacingAndGlyphs">14</text>
<circle cx="1688" cy="556.6" r="18.5" fill="#000" fill-opacity="0.72"/>
<text x="1688" y="563.3" font-family="Liberation Sans" font-weight="700" font-size="18.5" fill="#fff" stroke="#fff" stroke-width="1.7" text-anchor="middle" textLength="23.1" lengthAdjust="spacingAndGlyphs">15</text>
<circle cx="1731.25" cy="502.2" r="18.5" fill="#000" fill-opacity="0.72"/>
<text x="1731.25" y="508.9" font-family="Liberation Sans" font-weight="700" font-size="18.5" fill="#fff" stroke="#fff" stroke-width="1.7" text-anchor="middle" textLength="23.1" lengthAdjust="spacingAndGlyphs">16</text>
<circle cx="898" cy="1084.4" r="18.5" fill="#000" fill-opacity="0.72"/>
<text x="898" y="1091.1" font-family="Liberation Sans" font-weight="700" font-size="18.5" fill="#fff" stroke="#fff" stroke-width="1.7" text-anchor="middle" textLength="23.1" lengthAdjust="spacingAndGlyphs">17</text>
<circle cx="1030.6" cy="1102.8" r="18.5" fill="#000" fill-opacity="0.72"/>
<text x="1030.6" y="1109.5" font-family="Liberation Sans" font-weight="700" font-size="18.5" fill="#fff" stroke="#fff" stroke-width="1.7" text-anchor="middle" textLength="23.1" lengthAdjust="spacingAndGlyphs">18</text>
<circle cx="1217" cy="885" r="18.5" fill="#000" fill-opacity="0.72"/>
<text x="1217" y="891.7" font-family="Liberation Sans" font-weight="700" font-size="18.5" fill="#fff" stroke="#fff" stroke-width="1.7" text-anchor="middle" textLength="23.1" lengthAdjust="spacingAndGlyphs">19</text>
<circle cx="1603" cy="697" r="18.5" fill="#000" fill-opacity="0.72"/>
<text x="1603" y="703.7" font-family="Liberation Sans" font-weight="700" font-size="18.5" fill="#fff" stroke="#fff" stroke-width="1.7" text-anchor="middle" textLength="23.1" lengthAdjust="spacingAndGlyphs">20</text>
<circle cx="1524.7" cy="937.8" r="18.3" fill="#000" fill-opacity="0.72"/>
<text x="1524.7" y="944.4" font-family="Liberation Sans" font-weight="700" font-size="18.3" fill="#fff" stroke="#fff" stroke-width="1.6" text-anchor="middle" textLength="22.9" lengthAdjust="spacingAndGlyphs">21</text>
<circle cx="1305" cy="824" r="12" fill="#000" fill-opacity="0.72"/>
<text x="1305" y="828.3" font-family="Liberation Sans" font-weight="700" font-size="12" fill="#fff" stroke="#fff" stroke-width="1.1" text-anchor="middle" textLength="15" lengthAdjust="spacingAndGlyphs">22</text>
<circle cx="1425.3" cy="981" r="18.5" fill="#000" fill-opacity="0.72"/>
<text x="1425.3" y="987.7" font-family="Liberation Sans" font-weight="700" font-size="18.5" fill="#fff" stroke="#fff" stroke-width="1.7" text-anchor="middle" textLength="23.1" lengthAdjust="spacingAndGlyphs">23</text>
<circle cx="1596" cy="945" r="13" fill="#000" fill-opacity="0.72"/>
<text x="1596" y="949.7" font-family="Liberation Sans" font-weight="700" font-size="13" fill="#fff" stroke="#fff" stroke-width="1.2" text-anchor="middle" textLength="16.2" lengthAdjust="spacingAndGlyphs">24</text>
<circle cx="1653.75" cy="813" r="14" fill="#000" fill-opacity="0.72"/>
<text x="1653.75" y="818" font-family="Liberation Sans" font-weight="700" font-size="14" fill="#fff" stroke="#fff" stroke-width="1.3" text-anchor="middle" textLength="17.5" lengthAdjust="spacingAndGlyphs">25</text>
<circle cx="1650" cy="1056" r="13" fill="#000" fill-opacity="0.72"/>
<text x="1650" y="1060.7" font-family="Liberation Sans" font-weight="700" font-size="13" fill="#fff" stroke="#fff" stroke-width="1.2" text-anchor="middle" textLength="16.2" lengthAdjust="spacingAndGlyphs">26</text>
<circle cx="1661.6" cy="884.4" r="15" fill="#000" fill-opacity="0.72"/>
<text x="1661.6" y="889.8" font-family="Liberation Sans" font-weight="700" font-size="15" fill="#fff" stroke="#fff" stroke-width="1.3" text-anchor="middle" textLength="18.8" lengthAdjust="spacingAndGlyphs">27</text>
<circle cx="1577" cy="1312" r="13.6" fill="#000" fill-opacity="0.72"/>
<text x="1577" y="1316.9" font-family="Liberation Sans" font-weight="700" font-size="13.6" fill="#fff" stroke="#fff" stroke-width="1.2" text-anchor="middle" textLength="17" lengthAdjust="spacingAndGlyphs">28</text>
<circle cx="1883.4" cy="732.5" r="18.5" fill="#000" fill-opacity="0.72"/>
<text x="1883.4" y="739.2" font-family="Liberation Sans" font-weight="700" font-size="18.5" fill="#fff" stroke="#fff" stroke-width="1.7" text-anchor="middle" textLength="23.1" lengthAdjust="spacingAndGlyphs">29</text>
<circle cx="1781" cy="1141.7" r="18.5" fill="#000" fill-opacity="0.72"/>
<text x="1781" y="1148.4" font-family="Liberation Sans" font-weight="700" font-size="18.5" fill="#fff" stroke="#fff" stroke-width="1.7" text-anchor="middle" textLength="23.1" lengthAdjust="spacingAndGlyphs">30</text>
<circle cx="1785" cy="896" r="18.5" fill="#000" fill-opacity="0.72"/>
<text x="1785" y="902.7" font-family="Liberation Sans" font-weight="700" font-size="18.5" fill="#fff" stroke="#fff" stroke-width="1.7" text-anchor="middle" textLength="23.1" lengthAdjust="spacingAndGlyphs">31</text>
<circle cx="1685" cy="976" r="17.8" fill="#000" fill-opacity="0.72"/>
<text x="1685" y="982.4" font-family="Liberation Sans" font-weight="700" font-size="17.8" fill="#fff" stroke="#fff" stroke-width="1.6" text-anchor="middle" textLength="22.2" lengthAdjust="spacingAndGlyphs">32</text>
<circle cx="2046.6" cy="1260.75" r="18.5" fill="#000" fill-opacity="0.72"/>
<text x="2046.6" y="1267.4" font-family="Liberation Sans" font-weight="700" font-size="18.5" fill="#fff" stroke="#fff" stroke-width="1.7" text-anchor="middle" textLength="23.1" lengthAdjust="spacingAndGlyphs">33</text>
<circle cx="1818.4" cy="1014.7" r="18.5" fill="#000" fill-opacity="0.72"/>
<text x="1818.4" y="1021.4" font-family="Liberation Sans" font-weight="700" font-size="18.5" fill="#fff" stroke="#fff" stroke-width="1.7" text-anchor="middle" textLength="23.1" lengthAdjust="spacingAndGlyphs">34</text>
<circle cx="1876" cy="830.3" r="13.6" fill="#000" fill-opacity="0.72"/>
<text x="1876" y="835.2" font-family="Liberation Sans" font-weight="700" font-size="13.6" fill="#fff" stroke="#fff" stroke-width="1.2" text-anchor="middle" textLength="17" lengthAdjust="spacingAndGlyphs">35</text>
<circle cx="2127" cy="1049" r="18.5" fill="#000" fill-opacity="0.72"/>
<text x="2127" y="1055.7" font-family="Liberation Sans" font-weight="700" font-size="18.5" fill="#fff" stroke="#fff" stroke-width="1.7" text-anchor="middle" textLength="23.1" lengthAdjust="spacingAndGlyphs">36</text>
<circle cx="1612.8" cy="996" r="12.2" fill="#000" fill-opacity="0.72"/>
<text x="1612.8" y="1000.4" font-family="Liberation Sans" font-weight="700" font-size="12.2" fill="#fff" stroke="#fff" stroke-width="1.1" text-anchor="middle" textLength="15.2" lengthAdjust="spacingAndGlyphs">37</text>
<circle cx="2290" cy="868" r="14" fill="#000" fill-opacity="0.72"/>
<text x="2290" y="873" font-family="Liberation Sans" font-weight="700" font-size="14" fill="#fff" stroke="#fff" stroke-width="1.3" text-anchor="middle" textLength="17.5" lengthAdjust="spacingAndGlyphs">38</text>
<circle cx="1675.6" cy="1107.5" r="14" fill="#000" fill-opacity="0.72"/>
<text x="1675.6" y="1112.5" font-family="Liberation Sans" font-weight="700" font-size="14" fill="#fff" stroke="#fff" stroke-width="1.3" text-anchor="middle" textLength="17.5" lengthAdjust="spacingAndGlyphs">39</text>
<circle cx="1708" cy="1046.6" r="13" fill="#000" fill-opacity="0.72"/>
<text x="1708" y="1051.3" font-family="Liberation Sans" font-weight="700" font-size="13" fill="#fff" stroke="#fff" stroke-width="1.2" text-anchor="middle" textLength="16.2" lengthAdjust="spacingAndGlyphs">40</text>
<circle cx="1750.6" cy="1071" r="13.5" fill="#000" fill-opacity="0.72"/>
<text x="1750.6" y="1075.9" font-family="Liberation Sans" font-weight="700" font-size="13.5" fill="#fff" stroke="#fff" stroke-width="1.2" text-anchor="middle" textLength="16.9" lengthAdjust="spacingAndGlyphs">41</text>
<text x="930" y="184" font-family="Liberation Sans" font-size="23" fill="#000" textLength="94" lengthAdjust="spacingAndGlyphs">ICELAND</text>
<text x="1347" y="432.8" font-family="Liberation Sans" font-size="19.8" fill="#fff" textLength="87.4" lengthAdjust="spacingAndGlyphs">NORWAY</text>
<text x="1478.8" y="275" font-family="Liberation Sans" font-size="20.9" fill="#fff" textLength="85.8" lengthAdjust="spacingAndGlyphs">SWEDEN</text>
<text x="1630.4" y="343.4" font-family="Liberation Sans" font-size="21.2" fill="#fff" textLength="99.6" lengthAdjust="spacingAndGlyphs">FINLAND</text>
<text x="1670" y="466" font-family="Liberation Sans" font-size="16.8" fill="#fff" textLength="62" lengthAdjust="spacingAndGlyphs">ESTONIA</text>
<text x="1699" y="538.8" font-family="Liberation Sans" font-size="18.4" fill="#000" textLength="57" lengthAdjust="spacingAndGlyphs">LATVIA</text>
<text x="1645" y="595" font-family="Liberation Sans" font-size="16.8" fill="#000" textLength="92" lengthAdjust="spacingAndGlyphs">LITHUANIA</text>
<text x="1281.6" y="595.6" font-family="Liberation Sans" font-size="17" fill="#000" textLength="77.8" lengthAdjust="spacingAndGlyphs">DENMARK</text>
<text x="866" y="652" font-family="Liberation Sans" font-size="22.3" fill="#000" textLength="90" lengthAdjust="spacingAndGlyphs">IRELAND</text>
<text x="1075" y="653.8" font-family="Liberation Sans" font-size="20.9" fill="#000" textLength="188" lengthAdjust="spacingAndGlyphs">UNITED KINGDOM</text>
<text x="1224" y="686.6" font-family="Liberation Sans" font-size="13.4" fill="#000" textLength="94" lengthAdjust="spacingAndGlyphs">NETHERLANDS</text>
<text x="1263.8" y="802.8" font-family="Liberation Sans" font-size="14.4" fill="#000" textLength="60" lengthAdjust="spacingAndGlyphs">BELGIUM</text>
<text x="1241" y="846.6" font-family="Liberation Sans" font-size="12" fill="#000" textLength="71.5" lengthAdjust="spacingAndGlyphs">LUXEMBOURG</text>
<text x="1351" y="783" font-family="Liberation Sans" font-size="20.9" fill="#000" textLength="108.7" lengthAdjust="spacingAndGlyphs">GERMANY</text>
<text x="1554" y="732.5" font-family="Liberation Sans" font-size="20.9" fill="#000" textLength="90.4" lengthAdjust="spacingAndGlyphs">POLAND</text>
<text x="1741" y="654.7" font-family="Liberation Sans" font-size="20.9" fill="#000" textLength="91" lengthAdjust="spacingAndGlyphs">BELARUS</text>
<text x="1825" y="772.5" font-family="Liberation Sans" font-size="26.2" fill="#000" textLength="107" lengthAdjust="spacingAndGlyphs">UKRAINE</text>
<text x="1496" y="826" font-family="Liberation Sans" font-size="18.2" fill="#000" textLength="79" lengthAdjust="spacingAndGlyphs">CZECHIA</text>
<text x="1608" y="845" font-family="Liberation Sans" font-size="18.2" fill="#000" textLength="84" lengthAdjust="spacingAndGlyphs">SLOVAKIA</text>
<text x="1485" y="909.7" font-family="Liberation Sans" font-size="18.3" fill="#000" textLength="72.5" lengthAdjust="spacingAndGlyphs">AUSTRIA</text>
<text x="1586.6" y="916" font-family="Liberation Sans" font-size="19.6" fill="#000" textLength="100.4" lengthAdjust="spacingAndGlyphs">HUNGARY</text>
<text x="1156" y="933" font-family="Liberation Sans" font-size="29.3" fill="#000" textLength="107" lengthAdjust="spacingAndGlyphs">FRANCE</text>
<text x="1326.6" y="937.5" font-family="Liberation Sans" font-size="17.5" fill="#fff" textLength="56.2" lengthAdjust="spacingAndGlyphs">SWITZ.</text>
<text x="1498.4" y="966" font-family="Liberation Sans" font-size="11.2" fill="#000" textLength="51.6" lengthAdjust="spacingAndGlyphs">SLOVENIA</text>
<text x="1560" y="975" font-family="Liberation Sans" font-size="15.4" fill="#000" textLength="66" lengthAdjust="spacingAndGlyphs">CROATIA</text>
<text x="1396" y="1019" font-family="Liberation Sans" font-size="20.9" fill="#000" textLength="50" lengthAdjust="spacingAndGlyphs">ITALY</text>
<text x="1662.5" y="1011" font-family="Liberation Sans" font-size="15.8" fill="#000" textLength="55.5" lengthAdjust="spacingAndGlyphs">SERBIA</text>
<text x="1587.5" y="1022" font-family="Liberation Sans" font-size="14" fill="#000" textLength="52.5" lengthAdjust="spacingAndGlyphs">BOSNIA</text>
<text x="1587.5" y="1033.4" font-family="Liberation Sans" font-size="13.1" fill="#000" textLength="53.5" lengthAdjust="spacingAndGlyphs">&amp; HERZ.</text>
<text x="1593" y="1081" font-family="Liberation Sans" font-size="10.1" fill="#000" textLength="66" lengthAdjust="spacingAndGlyphs">MONTENEGRO</text>
<text x="1689.7" y="1071" font-family="Liberation Sans" font-size="10.6" fill="#000" textLength="42.3" lengthAdjust="spacingAndGlyphs">KOSOVO</text>
<text x="1716.2" y="1094.4" font-family="Liberation Sans" font-size="9.2" fill="#000" textLength="39.3" lengthAdjust="spacingAndGlyphs">NORTH</text>
<text x="1703" y="1104.7" font-family="Liberation Sans" font-size="10.8" fill="#000" textLength="69.5" lengthAdjust="spacingAndGlyphs">MACEDONIA</text>
<text x="1640.3" y="1137.5" font-family="Liberation Sans" font-size="13.3" fill="#000" textLength="59.1" lengthAdjust="spacingAndGlyphs">ALBANIA</text>
<text x="1768.8" y="1051" font-family="Liberation Sans" font-size="19.6" fill="#000" textLength="93.8" lengthAdjust="spacingAndGlyphs">BULGARIA</text>
<text x="1735" y="1178.6" font-family="Liberation Sans" font-size="21.8" fill="#000" textLength="84.7" lengthAdjust="spacingAndGlyphs">GREECE</text>
<text x="1733" y="935.3" font-family="Liberation Sans" font-size="22.2" fill="#000" textLength="103.6" lengthAdjust="spacingAndGlyphs">ROMANIA</text>
<text x="1841" y="855.6" font-family="Liberation Sans" font-size="13.4" fill="#000" textLength="64" lengthAdjust="spacingAndGlyphs">MOLDOVA</text>
<text x="2244" y="900" font-family="Liberation Sans" font-size="19.6" fill="#000" textLength="93" lengthAdjust="spacingAndGlyphs">GEORGIA</text>
<text x="2058" y="1102.4" font-family="Liberation Sans" font-size="35.8" fill="#000" textLength="122" lengthAdjust="spacingAndGlyphs">TÜRKIYE</text>
<text x="2017.5" y="1293.6" font-family="Liberation Sans" font-size="14" fill="#000" textLength="49.5" lengthAdjust="spacingAndGlyphs">CYPRUS</text>
<text x="1555" y="1337.6" font-family="Liberation Sans" font-size="14.8" fill="#000" textLength="42.5" lengthAdjust="spacingAndGlyphs">MALTA</text>
<text x="977.8" y="1148" font-family="Liberation Sans" font-size="29.3" fill="#000" textLength="81" lengthAdjust="spacingAndGlyphs">SPAIN</text>
<text x="815" y="1119.7" font-family="Liberation Sans" font-size="18.3" fill="#000" textLength="97" lengthAdjust="spacingAndGlyphs">PORTUGAL</text>
<text transform="translate(1932,378) scale(0.78,1)" x="0" y="0" text-anchor="middle" font-family="Liberation Sans" font-size="56" fill="#000" stroke="#000" stroke-width="0.9">R</text>
<text transform="translate(1992.5,378) scale(0.86,1)" x="0" y="0" text-anchor="middle" font-family="Liberation Sans" font-size="56" fill="#000" stroke="#000" stroke-width="0.9">U</text>
<text transform="translate(2054.4,378) scale(0.83,1)" x="0" y="0" text-anchor="middle" font-family="Liberation Sans" font-size="56" fill="#000" stroke="#000" stroke-width="0.9">S</text>
<text transform="translate(2114,378) scale(0.83,1)" x="0" y="0" text-anchor="middle" font-family="Liberation Sans" font-size="56" fill="#000" stroke="#000" stroke-width="0.9">S</text>
<text transform="translate(2165,378) scale(1.0,1)" x="0" y="0" text-anchor="middle" font-family="Liberation Sans" font-size="56" fill="#000" stroke="#000" stroke-width="0.9">I</text>
<text transform="translate(2219,378) scale(0.99,1)" x="0" y="0" text-anchor="middle" font-family="Liberation Sans" font-size="56" fill="#000" stroke="#000" stroke-width="0.9">A</text>
<rect x="0" y="0" width="336" height="222" fill="#EE4B59"/>
<rect x="0" y="468" width="106" height="876" fill="#EE4B59"/>
<rect x="0" y="222" width="931" height="246" fill="#233A50"/>
<path d="M35.2,80.5 54,80.5 64.5,125 75.1,80.5 94.1,80.5 94.1,147 82.9,147 82.9,95.2 70.6,147 58.7,147 46.7,95.2 46.7,147 35.2,147Z" fill="#BFBFBF"/>
<path d="M104.4,81.7 116.7,81.7 116.7,136.2 147.2,136.2 147.2,147 104.4,147Z" fill="#BFBFBF"/>
<rect x="153" y="80.5" width="12.1" height="66.5" fill="#BFBFBF"/>
<rect x="185.8" y="80.2" width="2" height="66.3" fill="#F7F7F7"/>
<text x="198.1" y="96.9" font-family="Liberation Sans" font-weight="700" font-size="20.9" fill="#F7F7F7" textLength="67.4" lengthAdjust="spacingAndGlyphs">MEDIA</text>
<text x="198.1" y="120.4" font-family="Liberation Sans" font-weight="700" font-size="20.9" fill="#F7F7F7" textLength="104.9" lengthAdjust="spacingAndGlyphs">LITERACY</text>
<text x="198.1" y="146.7" font-family="Liberation Sans" font-weight="700" font-size="20.9" fill="#F7F7F7" textLength="63.3" lengthAdjust="spacingAndGlyphs">INDEX</text>
<path d="M495.5,19.1 496.6,19.5 498.1,19.7 499.9,20.0 501.8,20.2 503.9,20.4 506.0,20.7 508.2,21.0 510.2,21.3 512.0,21.7 513.7,22.2 515.3,22.8 516.9,23.4 518.5,24.1 520.1,24.8 521.6,25.6 523.0,26.4 524.3,27.3 525.4,28.2 526.5,29.2 527.4,30.3 528.2,31.4 529.1,32.7 529.8,34.1 530.6,35.7 531.2,37.3 531.8,39.0 532.4,40.8 532.9,42.7 533.3,44.6 533.7,46.5 534.0,48.6 534.3,50.7 534.5,52.9 534.7,55.1 534.7,57.4 534.7,59.6 534.6,61.9 534.5,64.2 534.2,66.5 533.8,68.7 533.4,71.0 533.3,73.4 532.8,75.7 532.2,78.1 531.6,80.5 530.8,83.0 530.0,85.5 529.1,88.1 528.0,90.7 526.8,93.4 525.6,96.3 524.2,99.1 522.8,102.0 521.3,105.0 519.7,108.0 517.9,110.9 516.1,113.9 514.1,116.9 512.0,119.9 509.8,122.9 507.4,126.0 504.8,129.2 502.1,132.4 499.2,135.6 496.2,138.8 493.1,142.0 489.9,145.2 486.7,148.4 483.3,151.5 479.8,154.5 476.1,157.6 472.2,160.7 468.0,163.9 463.7,167.1 459.4,170.3 455.0,173.3 450.8,176.2 446.7,178.9 442.8,181.3 439.2,183.5 435.9,185.4 432.8,187.0 429.9,188.4 427.1,189.7 424.4,190.8 421.8,191.7 419.3,192.6 416.8,193.3 414.3,194.0 411.9,194.6 409.7,195.0 407.6,195.4 405.5,195.6 403.4,195.7 401.4,195.7 399.5,195.7 397.5,195.5 395.5,195.4 393.6,195.2 391.7,194.9 389.9,194.7 388.2,194.4 386.6,194.1 385.1,193.8 383.8,193.5 382.7,193.1 381.7,192.7 380.8,192.3 380.0,191.8 379.4,191.3 378.7,190.7 378.0,189.9 377.4,189.0 376.7,188.0 376.1,186.9 375.5,185.7 375.0,184.4 374.5,183.1 374.1,181.6 373.8,180.2 373.5,178.6 373.3,177.0 373.2,175.4 373.1,173.6 373.1,171.9 373.2,170.0 373.4,168.0 373.7,165.9 374.1,163.7 374.6,161.3 375.2,158.6 375.9,155.8 376.7,152.9 377.6,149.9 378.6,146.9 379.7,143.8 380.9,140.6 382.2,137.5 383.7,134.4 385.3,131.3 387.1,128.2 389.0,124.9 391.1,121.6 393.4,118.2 395.7,114.8 398.2,111.4 400.7,108.1 403.4,104.8 406.0,101.6 408.8,98.5 411.6,95.4 414.6,92.4 417.6,89.3 420.8,86.3 424.1,83.4 427.3,80.5 430.6,77.8 433.9,75.2 437.1,72.7 440.2,70.5 443.2,68.5 446.3,66.6 449.4,64.8 452.6,63.1 455.7,61.5 458.8,60.1 461.8,58.8 464.7,57.6 467.5,56.5 470.0,55.7 472.4,55.0 474.5,54.4 476.6,54.0 478.5,53.8 480.4,53.6 482.3,53.6 484.1,53.6 486.0,53.6 488.0,53.7 490.0,53.9 492.2,54.0 494.4,54.2 496.4,54.3 498.3,54.5 499.9,54.7 501.2,55.0 502.2,55.4 502.7,55.6 502.9,55.7 502.9,55.8 503.1,56.2 503.4,57.2 503.7,58.7 503.8,60.6 503.9,62.9 503.9,65.3 503.7,67.9 503.5,70.6 503.2,73.3 502.9,75.9 502.5,78.4 502.1,80.8 501.5,83.4 500.9,85.9 500.2,88.5 499.4,91.1 498.6,93.7 497.6,96.3 496.5,98.9 495.3,101.5 494.0,104.1 492.6,106.9 491.1,109.7 489.4,112.5 487.7,115.3 485.9,118.1 484.0,120.8 482.1,123.4 480.2,125.9 478.2,128.3 476.1,130.5 474.0,132.8 471.7,134.9 469.3,137.1 466.9,139.1 464.4,141.1 461.9,143.0 459.4,144.8 456.9,146.5 454.5,148.1 452.2,149.5 449.8,150.9 447.3,152.1 444.7,153.3 442.2,154.4 439.6,155.4 437.1,156.3 434.7,157.2 432.3,158.0 430.1,158.8 428.0,159.4 426.0,160.0 424.1,160.5 422.3,161.0 420.6,161.3 419.1,161.6 417.7,161.7 416.5,161.8 415.5,161.8 414.7,161.7 413.9,161.6 413.2,161.4 412.7,161.2 412.2,161.0 411.9,160.8 411.7,160.6 411.4,160.4 411.2,160.1 410.9,159.6 410.7,159.1 410.4,158.3 410.1,157.2 409.8,156.0 409.7,154.5 409.5,152.9 409.5,151.2 409.5,149.4 409.6,147.6 409.8,145.7 410.1,143.8 410.6,141.8 411.1,139.6 411.8,137.3 412.6,134.9 413.4,132.5 414.4,130.0 415.4,127.6 416.5,125.2 417.6,122.9 418.8,120.8 420.0,118.8 421.3,116.7 422.7,114.7 424.1,112.7 425.6,110.8 427.2,108.9 428.7,107.1 430.3,105.4 431.9,103.8 433.5,102.4 435.0,101.1 436.6,99.9 438.3,98.7 440.1,97.7 441.9,96.6 443.7,95.7 445.6,94.7 447.5,93.8 449.3,93.0 451.1,92.2 452.8,91.5 454.4,90.9 456.1,90.3 457.7,89.8 459.3,89.4 460.8,89.0 462.2,88.7 463.5,88.5 464.6,88.3 465.5,88.3 466.2,88.3 466.8,88.3 467.2,88.4 467.4,88.4 467.4,88.4 467.3,88.4 467.3,88.3 467.2,88.3 467.3,88.3 467.4,88.5 467.5,88.7 467.7,89.1 467.8,89.6 468.0,90.3 468.2,91.2 468.3,92.1 468.4,93.2 468.5,94.4 468.5,95.6 468.4,96.9 468.3,98.5 468.2,100.2 468.0,102.0 467.7,103.8 467.4,105.7 467.0,107.5 466.5,109.2 466.0,110.8 465.5,112.2 464.9,113.3 464.3,114.4 463.4,115.6 462.4,116.8 461.3,118.1 460.2,119.4 459.0,120.6 457.7,121.9 456.4,123.0 455.1,124.1 453.9,125.0 452.9,125.8 451.7,126.5 450.5,127.2 449.3,127.8 448.0,128.3 446.7,128.8 445.5,129.2 444.4,129.5 443.4,129.8 442.6,129.9 442.1,130.0 441.7,130.0 441.5,130.0 441.3,130.1 441.2,130.0 441.1,130.0 440.8,129.9 440.5,129.7 440.2,129.4 439.9,129.2 439.7,129.0 439.4,128.6 439.0,127.9 438.5,127.0 438.1,126.0 437.7,124.9 437.3,123.9 436.9,122.9 436.5,122.0 436.2,121.3 426.4,124.9 426.6,125.4 426.8,126.2 427.0,127.1 427.3,128.3 427.7,129.6 428.1,131.0 428.6,132.4 429.2,133.8 430.0,135.3 431.0,136.6 431.8,137.6 432.7,138.5 433.6,139.4 434.7,140.2 436.0,140.9 437.4,141.5 438.9,142.0 440.4,142.3 442.0,142.4 443.6,142.4 445.2,142.3 446.8,142.1 448.6,141.8 450.3,141.4 452.2,140.9 454.1,140.4 456.0,139.7 457.9,138.9 459.9,137.9 461.7,136.9 463.5,135.8 465.3,134.6 467.1,133.3 468.9,131.9 470.7,130.4 472.5,128.8 474.2,127.0 475.7,125.0 477.2,122.9 478.6,120.7 479.7,118.4 480.7,115.9 481.4,113.5 482.1,111.0 482.6,108.6 483.0,106.3 483.3,104.0 483.6,101.8 483.8,99.8 483.9,97.8 484.0,95.9 484.0,94.0 483.9,92.2 483.7,90.3 483.5,88.5 483.1,86.8 482.6,85.0 482.1,83.3 481.3,81.7 480.4,80.1 479.4,78.6 478.2,77.3 476.8,76.1 475.2,75.0 473.6,74.2 471.8,73.6 470.1,73.1 468.4,72.9 466.7,72.8 464.9,72.8 463.1,72.9 461.2,73.1 459.3,73.5 457.3,73.9 455.3,74.4 453.3,75.0 451.2,75.6 449.1,76.3 447.0,77.1 445.0,78.0 443.0,78.9 440.9,79.8 438.8,80.8 436.6,81.9 434.4,83.1 432.2,84.3 429.9,85.7 427.6,87.3 425.4,88.9 423.3,90.7 421.2,92.6 419.2,94.6 417.3,96.7 415.4,98.8 413.5,101.1 411.7,103.4 410.0,105.8 408.3,108.2 406.7,110.7 405.3,113.2 403.9,115.8 402.5,118.5 401.2,121.3 400.0,124.2 398.9,127.1 397.9,129.9 397.0,132.8 396.2,135.6 395.5,138.3 394.9,141.0 394.5,143.6 394.2,146.2 394.0,148.8 394.0,151.3 394.0,153.8 394.2,156.2 394.6,158.5 395.0,160.7 395.6,162.9 396.3,165.0 397.3,167.0 398.4,168.9 399.8,170.6 401.3,172.1 403.0,173.5 404.8,174.6 406.7,175.5 408.6,176.2 410.6,176.7 412.6,177.1 414.8,177.3 416.9,177.3 419.1,177.2 421.3,176.9 423.5,176.6 425.7,176.1 428.0,175.5 430.2,174.9 432.5,174.2 434.9,173.5 437.3,172.7 439.8,171.8 442.5,170.9 445.3,169.8 448.1,168.7 451.0,167.4 454.0,166.1 457.0,164.6 459.9,163.0 462.8,161.2 465.6,159.4 468.4,157.5 471.2,155.5 474.0,153.3 476.8,151.1 479.5,148.7 482.2,146.3 484.9,143.8 487.4,141.2 489.9,138.5 492.2,135.7 494.5,132.8 496.7,129.8 498.8,126.7 500.8,123.6 502.7,120.5 504.6,117.3 506.3,114.2 507.9,111.1 509.4,108.0 510.7,105.0 512.0,101.9 513.2,98.9 514.2,95.8 515.1,92.8 515.9,89.8 516.7,86.8 517.3,83.8 517.8,80.8 518.2,78.0 518.6,75.1 518.9,72.1 519.2,69.1 519.3,65.9 519.4,62.8 519.3,59.7 519.0,56.6 518.4,53.5 517.5,50.4 515.9,47.3 513.6,44.6 511.0,42.5 508.2,41.1 505.5,40.1 502.8,39.5 500.2,39.1 497.8,38.9 495.4,38.7 493.2,38.6 491.1,38.4 489.0,38.3 486.8,38.1 484.4,38.1 482.0,38.1 479.5,38.2 476.8,38.4 474.1,38.7 471.2,39.3 468.3,40.0 465.3,40.9 462.2,42.0 459.1,43.1 455.8,44.5 452.4,45.9 448.9,47.6 445.4,49.3 441.9,51.2 438.3,53.3 434.8,55.5 431.3,57.8 427.9,60.3 424.4,62.9 420.8,65.8 417.3,68.7 413.8,71.8 410.3,74.9 406.9,78.2 403.5,81.5 400.3,84.8 397.3,88.1 394.3,91.5 391.4,95.0 388.5,98.5 385.8,102.1 383.1,105.8 380.5,109.5 378.1,113.2 375.8,116.8 373.6,120.4 371.6,124.0 369.8,127.6 368.1,131.2 366.5,134.8 365.2,138.4 363.9,141.9 362.8,145.3 361.8,148.7 360.9,151.9 360.1,154.9 359.4,157.9 358.8,160.8 358.4,163.5 358.0,166.3 357.7,168.9 357.6,171.4 357.6,173.9 357.7,176.3 357.9,178.6 358.2,180.9 358.6,183.2 359.1,185.4 359.7,187.7 360.5,189.8 361.3,192.0 362.3,194.1 363.4,196.1 364.7,198.0 366.1,199.8 367.6,201.5 369.4,203.1 371.2,204.6 373.2,205.8 375.3,206.8 377.4,207.7 379.4,208.4 381.5,208.9 383.6,209.4 385.7,209.7 387.7,210.0 389.8,210.3 391.9,210.6 394.0,210.8 396.4,211.0 398.8,211.1 401.3,211.2 404.0,211.2 406.7,211.0 409.5,210.7 412.4,210.3 415.4,209.7 418.2,209.0 421.1,208.2 424.0,207.3 426.9,206.3 430.0,205.2 433.2,203.9 436.4,202.5 439.8,200.8 443.4,198.9 447.0,196.9 450.9,194.5 455.0,191.9 459.4,189.1 463.8,186.1 468.4,182.9 472.9,179.6 477.4,176.3 481.8,172.9 486.0,169.6 489.9,166.3 493.6,163.0 497.3,159.7 500.8,156.3 504.2,152.9 507.5,149.4 510.7,146.0 513.8,142.5 516.7,139.1 519.5,135.7 522.1,132.4 524.6,129.0 527.0,125.6 529.2,122.2 531.2,118.9 533.2,115.6 535.0,112.3 536.6,109.0 538.2,105.9 539.7,102.7 541.0,99.7 542.3,96.6 543.5,93.6 544.6,90.6 545.6,87.7 546.5,84.8 547.3,81.9 547.9,79.0 548.5,76.1 549.2,73.3 549.4,70.4 549.5,67.5 549.5,64.6 549.3,61.7 549.0,58.9 548.7,56.1 548.2,53.4 547.7,50.8 547.0,48.2 546.4,45.8 545.6,43.5 544.9,41.2 544.0,39.0 543.0,36.8 542.0,34.7 540.9,32.6 539.7,30.6 538.4,28.7 537.0,27.0 535.6,25.3 533.9,23.7 532.2,22.4 530.4,21.1 528.5,20.1 526.6,19.3 524.6,18.5 522.7,17.9 520.7,17.4 518.8,17.0 516.9,16.7 514.9,16.4 512.8,16.2 510.6,16.2 508.3,16.3 506.1,16.5 503.8,16.8 501.7,17.1 499.8,17.4 498.0,17.8 496.6,18.1 495.5,18.5Z" fill="#45624F"/>
<text x="577" y="54" font-family="Liberation Serif" font-size="33.5" fill="#45624F" textLength="86" lengthAdjust="spacingAndGlyphs">OPEN</text>
<text x="570.4" y="98.2" font-family="Liberation Serif" font-size="33.5" fill="#45624F" textLength="130.5" lengthAdjust="spacingAndGlyphs">SOCIETY</text>
<text x="555.2" y="142.4" font-family="Liberation Serif" font-size="33.5" fill="#45624F" textLength="162.1" lengthAdjust="spacingAndGlyphs">INSTITUTE</text>
<text x="532.8" y="190.7" font-family="Liberation Serif" font-size="33.5" fill="#45624F" textLength="92" lengthAdjust="spacingAndGlyphs">SOFIA</text>
<text x="31" y="330" font-family="Liberation Sans" font-weight="700" font-size="40" fill="#fff" stroke="#fff" stroke-width="2.2" textLength="742" lengthAdjust="spacingAndGlyphs">The European Media Literacy Index</text>
<text x="786" y="330" font-family="Liberation Sans" font-weight="700" font-size="40" fill="#EE4B59" stroke="#EE4B59" stroke-width="2.2" textLength="124" lengthAdjust="spacingAndGlyphs">2026</text>
<text x="38" y="378.5" font-family="Liberation Sans" font-weight="700" font-size="39.5" fill="#BDBDBD" stroke="#BDBDBD" stroke-width="2.2" textLength="727" lengthAdjust="spacingAndGlyphs">Clusters and Ranking of Countries</text>
<circle cx="169.5" cy="522" r="28.3" fill="#0A3F82"/>
<text x="230.5" y="535" font-family="Liberation Sans" font-weight="700" font-size="37.5" fill="#000" stroke="#000" stroke-width="1.8" textLength="176" lengthAdjust="spacingAndGlyphs">Cluster 1</text>
<circle cx="169.5" cy="617" r="28.3" fill="#ADD6E6"/>
<text x="230.5" y="628" font-family="Liberation Sans" font-weight="700" font-size="37.5" fill="#000" stroke="#000" stroke-width="1.8" textLength="184" lengthAdjust="spacingAndGlyphs">Cluster 2</text>
<circle cx="169.5" cy="710" r="28.3" fill="#FEDF8E"/>
<text x="230.5" y="723" font-family="Liberation Sans" font-weight="700" font-size="37.5" fill="#000" stroke="#000" stroke-width="1.8" textLength="184" lengthAdjust="spacingAndGlyphs">Cluster 3</text>
<circle cx="169.5" cy="801.4" r="28.3" fill="#FDAE62"/>
<text x="230.5" y="816.6" font-family="Liberation Sans" font-weight="700" font-size="37.5" fill="#000" stroke="#000" stroke-width="1.8" textLength="186" lengthAdjust="spacingAndGlyphs">Cluster 4</text>
<circle cx="169.5" cy="892.5" r="28.3" fill="#D6604F"/>
<text x="230.5" y="912" font-family="Liberation Sans" font-weight="700" font-size="37.5" fill="#000" stroke="#000" stroke-width="1.8" textLength="186" lengthAdjust="spacingAndGlyphs">Cluster 5</text>
</svg></body></html>
